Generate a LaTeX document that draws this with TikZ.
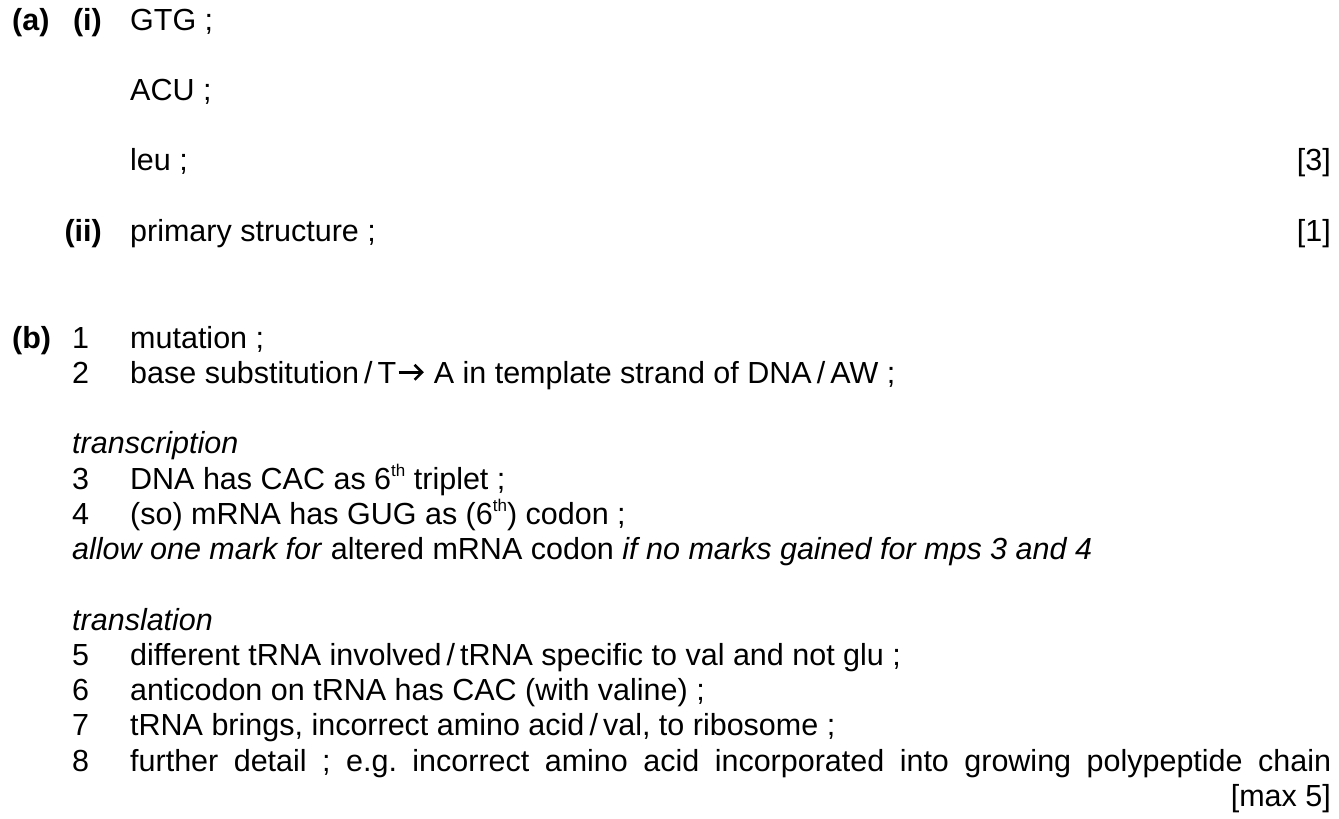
\documentclass[tikz,border=0pt]{standalone}
\usepackage{fontspec}
\setmainfont{Liberation Sans}
\newcommand{\fsz}{\fontsize{30.5}{35}\selectfont}
\newcommand{\sth}{\raisebox{13pt}{\fontsize{17}{17}\selectfont th}}
\begin{document}
\begin{tikzpicture}[x=1pt,y=1pt,
  txt/.style={anchor=base west, inner sep=0pt, font=\fsz\frenchspacing},
  rtxt/.style={anchor=base east, inner sep=0pt, font=\fsz},
  lbl/.style={anchor=base west, inner sep=0pt, font=\fsz\bfseries},
  rlbl/.style={anchor=base east, inner sep=0pt, font=\fsz\bfseries},
  arrowglyph/.style={line width=2.6pt, line cap=butt, line join=miter}]
\useasboundingbox (0,0) rectangle (1339,-819);
% part (a)
\node[lbl] (pa) at (12,-30) {(a)};
\node[rlbl] (pai) at (102,-30) {(i)};
\node[txt] (gtg) at (130,-30) {GTG ;};
\node[txt] (acu) at (130,-100) {ACU ;};
\node[txt] (leu) at (130,-170) {leu ;};
\node[rtxt] (m3) at (1331,-170) {[3]};
\node[rlbl] (paii) at (102,-241) {(ii)};
\node[txt] (prim) at (130,-241) {primary structure ;};
\node[rtxt] (m1) at (1331,-241) {[1]};
% part (b)
\node[lbl] (pb) at (12,-348) {(b)};
\node[txt] (n1) at (72,-348) {1};
\node[txt] (t1) at (130,-348) {mutation ;};
\node[txt] (n2) at (72,-383.3) {2};
\node[txt] (t2a) at (130,-383.3) {base substitution\,/\,T};
\draw[arrowglyph] ([xshift=2pt,yshift=11pt]t2a.base east) -- ([xshift=25pt,yshift=11pt]t2a.base east);
\draw[arrowglyph] ([xshift=18pt,yshift=18.5pt]t2a.base east) -- ([xshift=25.5pt,yshift=11pt]t2a.base east) -- ([xshift=18pt,yshift=3.5pt]t2a.base east);
\node[txt] (t2b) at ([xshift=37pt]t2a.base east) {A in template strand of DNA\,/\,AW ;};
\node[txt] (trans) at (72,-453.8) {\itshape transcription};
\node[txt] (n3) at (72,-489) {3};
\node[txt] (t3) at (130,-489) {DNA has CAC as 6\sth{} triplet ;};
\node[txt] (n4) at (72,-524.3) {4};
\node[txt] (t4) at (130,-524.3) {(so) mRNA has GUG as (6\sth) codon ;};
\node[txt] (allow) at (72,-559.5) {\textit{allow one mark for} altered mRNA codon \textit{if no marks gained for mps 3 and 4}};
\node[txt] (transl) at (72,-630) {\itshape translation};
\node[txt] (n5) at (72,-665.3) {5};
\node[txt] (t5) at (130,-665.3) {different tRNA involved\,/\,tRNA specific to val and not glu ;};
\node[txt] (n6) at (72,-700.5) {6};
\node[txt] (t6) at (130,-700.5) {anticodon on tRNA has CAC (with valine) ;};
\node[txt] (n7) at (72,-735.8) {7};
\node[txt] (t7) at (130,-735.8) {tRNA brings, incorrect amino acid\,/\,val, to ribosome ;};
\node[txt] (n8) at (72,-771) {8};
\node[txt] (t8) at (130,-771) {\makebox[1201pt][s]{further detail ; e.g. incorrect amino acid incorporated into growing polypeptide chain}};
\node[rtxt] (m5) at (1331,-806.3) {[max 5]};
\end{tikzpicture}
\end{document}
